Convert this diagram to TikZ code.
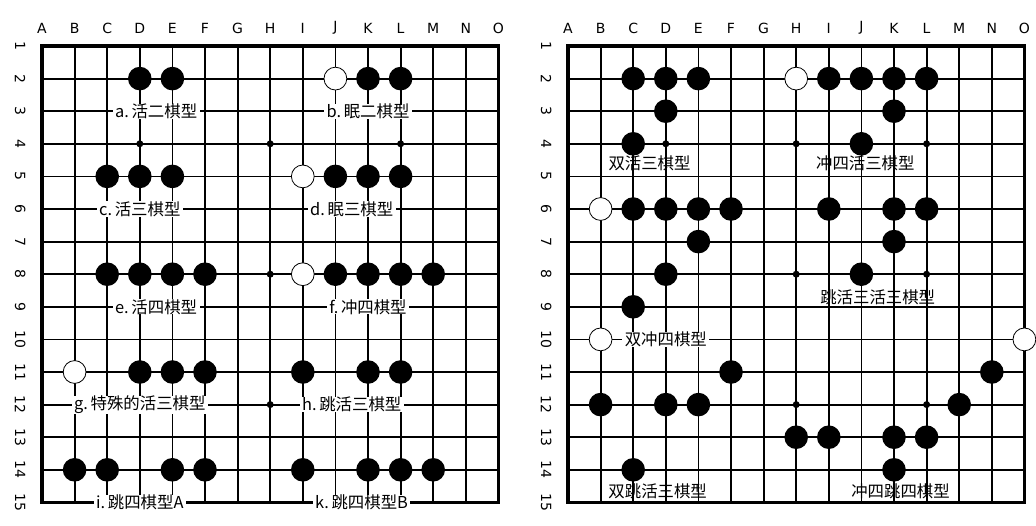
\documentclass[tikz,border=0pt]{standalone}
\usepackage{fontspec}
\setmainfont{Noto Sans CJK SC}
\newfontfamily\axisfont{DejaVu Sans}
\tikzset{
  gridline/.style={line width=1.8pt, black},
  boardborder/.style={line width=3.2pt, black},
  stardot/.style={circle, fill=black, inner sep=0pt, minimum size=7pt},
  bstone/.style={circle, fill=black, inner sep=0pt, minimum size=23.6pt},
  wstone/.style={circle, draw=black, line width=0.8pt, fill=white, inner sep=0pt, minimum size=22.8pt},
  collabel/.style={font=\axisfont\fontsize{14}{14}\selectfont, inner sep=0pt},
  rowlabel/.style={font=\axisfont\fontsize{14}{14}\selectfont, inner sep=0pt, rotate=-90},
  onlabel/.style={fill=white, inner xsep=2.5pt, inner ysep=0pt, font=\fontsize{16.4}{16.4}\selectfont},
  offlabel/.style={inner sep=0pt, font=\fontsize{16.4}{16.4}\selectfont},
  boardunits/.style={x=32.6pt, y=-32.6pt}
}
\newcommand\makeboard[1]{%
  \foreach \k in {1,...,13} {
    \draw[gridline] (\k,0) -- (\k,14);
    \draw[gridline] (0,\k) -- (14,\k);
  }
  \draw[boardborder] (0,0) rectangle (14,14);
  \foreach \c/\cn in {3/D,7/H,11/L} \foreach \r/\rn in {3/4,7/8,11/12}
    \node[stardot] (#1star\cn\rn) at (\c,\r) {};
  \foreach \l [count=\i from 0] in {A,B,C,D,E,F,G,H,I,J,K,L,M,N,O}
    \node[collabel] (#1col\l) at (\i,-0.55) {\l};
  \foreach \n [evaluate=\n as \rr using int(\n-1)] in {1,...,15}
    \node[rowlabel] (#1row\n) at (-0.67,\rr) {\n};
}
\begin{document}
\begin{tikzpicture}[x=1pt,y=-1pt]
\useasboundingbox (0,0) rectangle (1036,525);
\fill[white] (0,0) rectangle (1036,525);

% ---------------- left board ----------------
\begin{scope}[shift={(42,46)}, boardunits]
  \makeboard{L}
  % black stones
  \foreach \c/\r in {3/1,4/1, 10/1,11/1, 2/4,3/4,4/4, 9/4,10/4,11/4,
                     2/7,3/7,4/7,5/7, 9/7,10/7,11/7,12/7,
                     3/10,4/10,5/10, 8/10,10/10,11/10,
                     1/13,2/13,4/13,5/13, 8/13,10/13,11/13,12/13}
    \node[bstone] (Lb-\c-\r) at (\c,\r) {};
  % white stones
  \foreach \c/\r in {9/1, 8/4, 8/7, 1/10}
    \node[wstone] (Lw-\c-\r) at (\c,\r) {};
  % labels
  \node[onlabel] (La) at (3.5,2)  {a.\,活二棋型};
  \node[onlabel] (Lb) at (10,2)   {b.\,眠二棋型};
  \node[onlabel] (Lc) at (3,5)    {c.\,活三棋型};
  \node[onlabel] (Ld) at (9.5,5)  {d.\,眠三棋型};
  \node[onlabel] (Le) at (3.5,8)  {e.\,活四棋型};
  \node[onlabel] (Lf) at (10,8)   {f.\,冲四棋型};
  \node[onlabel] (Lg) at (3,11)   {g.\,特殊的活三棋型};
  \node[onlabel] (Lh) at (9.5,11) {h.\,跳活三棋型};
  \node[onlabel] (Li) at (3,14)   {i.\,跳四棋型A};
  \node[onlabel] (Lk) at (9.8,14) {k.\,跳四棋型B};
\end{scope}

% ---------------- right board ----------------
\begin{scope}[shift={(568,46)}, boardunits]
  \makeboard{R}
  \foreach \c/\r in {2/1,3/1,4/1,3/2,2/3,
                     8/1,9/1,10/1,11/1,10/2,9/3,
                     2/5,3/5,4/5,5/5,4/6,3/7,2/8,
                     8/5,10/5,11/5,10/6,9/7,
                     5/10, 1/11,3/11,4/11,2/13,
                     7/12,8/12,10/12,11/12,10/13,12/11,13/10}
    \node[bstone] (Rb-\c-\r) at (\c,\r) {};
  \foreach \c/\r in {7/1, 1/5, 1/9, 14/9}
    \node[wstone] (Rw-\c-\r) at (\c,\r) {};
  \node[offlabel] (Ra) at (2.5,3.6)   {双活三棋型};
  \node[offlabel] (Rb) at (9.12,3.6)  {冲四活三棋型};
  \node[onlabel]  (Rc) at (3,9)       {双冲四棋型};
  \node[offlabel] (Rd) at (9.5,7.7)   {跳活三活三棋型};
  \node[offlabel] (Re) at (2.75,13.66) {双跳活三棋型};
  \node[offlabel] (Rf) at (10.2,13.66) {冲四跳四棋型};
\end{scope}
\end{tikzpicture}
\end{document}
